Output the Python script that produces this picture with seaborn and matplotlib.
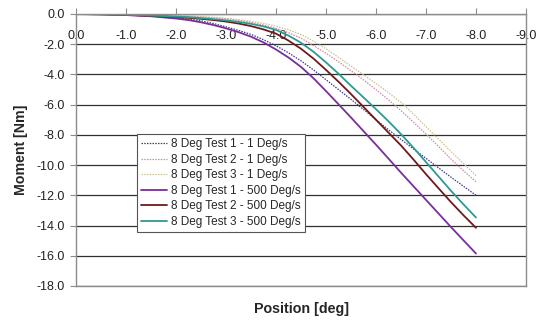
import numpy as np
import pandas as pd
import matplotlib
matplotlib.use("Agg")
import matplotlib.pyplot as plt
import seaborn as sns

# Position in degrees
position = [0.0, -0.5, -1.0, -1.5, -2.0, -2.25, -2.5, -2.75, -3.0, -3.25,
            -3.5, -3.75, -4.0, -4.25, -4.5, -4.75, -5.0, -5.25, -5.5, -5.75,
            -6.0, -6.25, -6.5, -6.75, -7.0, -7.25, -7.5, -7.75, -8.0]

# Moment [Nm], slow tests (1 Deg/s)
slow_test1 = [0.0, -0.02, -0.06, -0.14, -0.25, -0.34, -0.45, -0.63, -0.85,
              -1.08, -1.35, -1.7, -2.1, -2.57, -3.1, -3.7, -4.35, -5.0, -5.65,
              -6.32, -7.0, -7.66, -8.3, -8.93, -9.55, -10.18, -10.8, -11.4,
              -12.0]
slow_test2 = [0.0, -0.01, -0.04, -0.07, -0.12, -0.15, -0.2, -0.25, -0.32,
              -0.42, -0.55, -0.73, -0.95, -1.24, -1.6, -2.08, -2.6, -3.16,
              -3.75, -4.36, -5.0, -5.68, -6.4, -7.16, -7.95, -8.76, -9.6,
              -10.37, -11.1]
slow_test3 = [0.0, -0.01, -0.03, -0.06, -0.1, -0.13, -0.17, -0.22, -0.28,
              -0.37, -0.48, -0.62, -0.8, -1.05, -1.35, -1.8, -2.3, -2.87,
              -3.45, -4.02, -4.6, -5.2, -5.85, -6.62, -7.45, -8.27, -9.1,
              -9.9, -10.7]

# Moment [Nm], fast tests (500 Deg/s)
fast_test1 = [0.0, -0.02, -0.07, -0.15, -0.3, -0.4, -0.55, -0.73, -0.95,
              -1.2, -1.5, -1.88, -2.35, -2.88, -3.5, -4.25, -5.1, -5.97,
              -6.85, -7.75, -8.65, -9.57, -10.5, -11.4, -12.3, -13.2, -14.1,
              -14.98, -15.85]
fast_test2 = [0.0, -0.02, -0.06, -0.12, -0.2, -0.25, -0.32, -0.4, -0.5,
              -0.63, -0.8, -1.02, -1.3, -1.76, -2.3, -2.95, -3.7, -4.48,
              -5.3, -6.15, -7.0, -7.85, -8.7, -9.63, -10.6, -11.53, -12.45,
              -13.32, -14.15]
fast_test3 = [0.0, -0.02, -0.05, -0.1, -0.17, -0.21, -0.27, -0.34, -0.42,
              -0.52, -0.65, -0.82, -1.05, -1.43, -1.9, -2.5, -3.2, -3.95,
              -4.75, -5.52, -6.3, -7.1, -7.95, -8.85, -9.8, -10.75, -11.7,
              -12.6, -13.47]

series_names = ["8 Deg Test 1 - 1 Deg/s", "8 Deg Test 2 - 1 Deg/s",
                "8 Deg Test 3 - 1 Deg/s", "8 Deg Test 1 - 500 Deg/s",
                "8 Deg Test 2 - 500 Deg/s", "8 Deg Test 3 - 500 Deg/s"]
series_values = [slow_test1, slow_test2, slow_test3,
                 fast_test1, fast_test2, fast_test3]

y_ticks = [0.0, -2.0, -4.0, -6.0, -8.0, -10.0, -12.0, -14.0, -16.0, -18.0]
x_ticks = [0.0, -1.0, -2.0, -3.0, -4.0, -5.0, -6.0, -7.0, -8.0, -9.0]

colors = ["#3a3a8c", "#d08aa8", "#c8c290", "#7a2e9a", "#6e1a1a", "#2e9a90"]
dash_styles = [(1.2, 1.0), (1.2, 1.0), (1.2, 1.0), "", "", ""]
widths = [0.9, 0.9, 0.9, 1.3, 1.3, 1.3]

frames = []
for name, vals in zip(series_names, series_values):
    frames.append(pd.DataFrame({"Position": position, "Moment": vals,
                                "Series": name}))
data = pd.concat(frames, ignore_index=True)

sns.set_style("white")
plt.rcParams["font.family"] = ["Liberation Sans", "DejaVu Sans"]

fig = plt.figure(figsize=(5.4, 3.21), dpi=100)
ax = fig.add_axes([76 / 540, 1 - 286 / 321, 450 / 540, 272 / 321])

sns.lineplot(data=data, x="Position", y="Moment", hue="Series",
             style="Series", hue_order=series_names, style_order=series_names,
             palette=dict(zip(series_names, colors)),
             dashes=dict(zip(series_names, dash_styles)),
             ax=ax, legend=True)
for line, lw in zip(ax.lines, widths):
    line.set_linewidth(lw)

ax.set_xlim(0, -9)
ax.set_ylim(-18, 0)
ax.set_xticks(x_ticks)
ax.set_xticklabels([f"{v:.1f}" for v in x_ticks])
ax.set_yticks(y_ticks)
ax.set_yticklabels([f"{v:.1f}" for v in y_ticks])

# horizontal gridlines only
ax.yaxis.grid(True, color="#303030", linewidth=0.9)
ax.xaxis.grid(False)
ax.set_axisbelow(True)

for side in ["left", "right", "bottom", "top"]:
    ax.spines[side].set_visible(True)
    ax.spines[side].set_color("#8c8c8c")
    ax.spines[side].set_linewidth(1.0)

# x axis sits on the zero line, labels hang below it inside the plot
ax.tick_params(axis="x", top=True, bottom=False, labeltop=True,
               labelbottom=False, direction="out", length=4, width=0.8,
               color="#8c8c8c", pad=-24, labelsize=9, labelcolor="#222222")
ax.tick_params(axis="y", left=True, direction="out", length=4, width=0.8,
               color="#8c8c8c", pad=4, labelsize=9, labelcolor="#222222")

ax.set_xlabel("")
ax.set_ylabel("")
fig.text(301 / 540, 1 - 309 / 321, "Position [deg]", ha="center",
         va="center", fontsize=10.3, fontweight="bold")
fig.text(21 / 540, 1 - 150 / 321, "Moment [Nm]", ha="center", va="center",
         rotation=90, fontsize=10.2, fontweight="bold")

handles, labels = ax.get_legend_handles_labels()
for h, lw in zip(handles, widths):
    h.set_linewidth(lw)
leg = ax.legend(handles, labels, loc="lower left",
                bbox_to_anchor=(0.1356, 0.1985), borderaxespad=0,
                fontsize=8.5, frameon=True, fancybox=False, framealpha=1,
                edgecolor="#555555", handlelength=2.2, handletextpad=0.3,
                labelspacing=0.3, borderpad=0.35)
leg.get_frame().set_linewidth(0.8)

fig.savefig("out.png", dpi=100)
